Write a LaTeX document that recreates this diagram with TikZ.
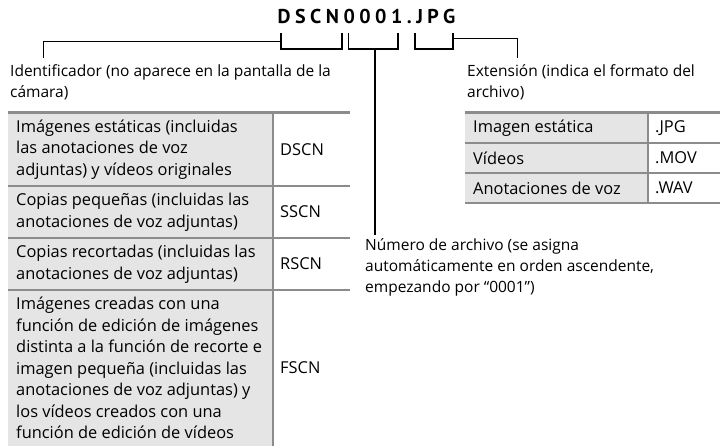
\documentclass[tikz,border=0pt]{standalone}
\usepackage{fontspec}
\setmainfont{Open Sans}
\newfontfamily\titlefont{PT Sans}
\definecolor{cellgray}{gray}{0.9}
\definecolor{rulegray}{gray}{0.55}
\begin{document}
\begin{tikzpicture}[x=1pt,y=-1pt,
  lbl/.style={anchor=north west,inner sep=0pt,align=left,
    font=\fontsize{15.5}{21}\selectfont},
  cell/.style={anchor=west,inner sep=0pt,align=left,
    font=\fontsize{16.4}{21.5}\selectfont},
  rule/.style={draw=rulegray,line width=2pt},
  brk/.style={line width=1.6pt}]
  \useasboundingbox (0,0) rectangle (720,446);
  % file name and brackets
  \node[font=\titlefont\fontsize{20}{20}\selectfont\bfseries\addfontfeatures{LetterSpace=22.5}]
    (fname) at (366.5,17) {DSCN0001.JPG};
  \coordinate (identtop) at (43.3,58);
  \coordinate (exttop) at (517.3,58);
  \coordinate (numtop) at (375,235);
  \draw[brk] (280.7,33) -- (280.7,49) -- (341.7,49) -- (341.7,33);
  \draw[brk] (348.3,33) -- (348.3,49) -- (397.7,49) -- (397.7,33);
  \draw[brk] (415,33) -- (415,49) -- (452.7,49) -- (452.7,33);
  \draw[brk] (280.7,41.5) -| (identtop);
  \draw[brk] (375,49) -- (numtop);
  \draw[brk] (452.7,38.5) -| (exttop);
  \node[lbl] (ident) at (10,64)
    {Identificador (no aparece en la pantalla de la\\c\'amara)};
  \node[lbl] (ext) at (467,64)
    {Extensi\'on (indica el formato del\\archivo)};
  \node[lbl] (num) at (365,238)
    {N\'umero de archivo (se asigna\\autom\'aticamente en orden ascendente,\\empezando por “0001”)};
  % prefix table
  \fill[cellgray] (8.3,113) rectangle (273,446);
  \draw[rulegray,line width=3pt] (8.3,113) -- (350,113);
  \draw[rule] (8.3,186) -- (350,186);
  \draw[rule] (8.3,238) -- (350,238);
  \draw[rule] (8.3,290) -- (350,290);
  \draw[rule] (273,113) -- (273,446);
  \node[cell] (img) at (16,149.5)
    {Im\'agenes est\'aticas (incluidas\\las anotaciones de voz\\adjuntas) y v\'ideos originales};
  \node[cell] (small) at (16,212)
    {Copias peque\~nas (incluidas las\\anotaciones de voz adjuntas)};
  \node[cell] (crop) at (16,264)
    {Copias recortadas (incluidas las\\anotaciones de voz adjuntas)};
  \node[cell] (edit) at (16,368)
    {Im\'agenes creadas con una\\funci\'on de edici\'on de im\'agenes\\distinta a la funci\'on de recorte e\\imagen peque\~na (incluidas las\\anotaciones de voz adjuntas) y\\los v\'ideos creados con una\\funci\'on de edici\'on de v\'ideos};
  \node[cell] (dscn) at (280,149.5) {DSCN};
  \node[cell] (sscn) at (280,212) {SSCN};
  \node[cell] (rscn) at (280,264) {RSCN};
  \node[cell] (fscn) at (280,368) {FSCN};
  % extension table
  \fill[cellgray] (465,113) rectangle (648.3,203);
  \draw[rulegray,line width=3pt] (465,113) -- (720,113);
  \draw[rule] (465,143) -- (720,143);
  \draw[rule] (465,173) -- (720,173);
  \draw[rule] (465,203) -- (720,203);
  \draw[rule] (648.3,113) -- (648.3,203);
  \node[cell] (still) at (473,128) {Imagen est\'atica};
  \node[cell] (movie) at (473,158) {V\'ideos};
  \node[cell] (voice) at (473,188) {Anotaciones de voz};
  \node[cell] (jpg) at (655,128) {.JPG};
  \node[cell] (mov) at (655,158) {.MOV};
  \node[cell] (wav) at (655,188) {.WAV};
\end{tikzpicture}
\end{document}
